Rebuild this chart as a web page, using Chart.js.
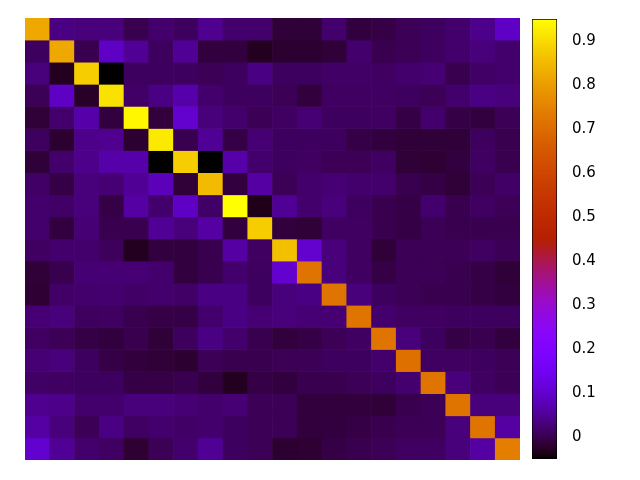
<!DOCTYPE html>
<html>
<head>
<meta charset="utf-8">
<script src="https://cdn.jsdelivr.net/npm/chart.js@4.4.1/dist/chart.umd.min.js"></script>
<style>
  html, body { margin: 0; padding: 0; background: #fff; }
  #wrap { position: relative; width: 640px; height: 480px; }
  #wrap canvas { position: absolute; left: 0; top: 0; }
</style>
</head>
<body>
<div id="wrap">
  <canvas id="heat" width="640" height="480"></canvas>
  <canvas id="cbar" width="640" height="480"></canvas>
</div>
<script>
// 20 x 20 matrix, row 0 drawn at the top
const colLabels = Array.from({ length: 20 }, (_, i) => String(i));
const cells = [
  [0.82, 0.035, 0.03, 0.03, 0.0, 0.02, 0.01, 0.045, 0.02, 0.02, -0.015, -0.015, 0.02, -0.01, -0.005, 0.005, 0.01, 0.02, 0.04, 0.09],
  [0.01, 0.82, 0.0, 0.09, 0.05, 0.01, 0.05, -0.01, -0.01, -0.03, -0.02, -0.02, -0.015, 0.02, 0.0, 0.005, 0.01, 0.02, 0.03, 0.02],
  [0.03, -0.03, 0.88, -0.06, 0.01, 0.01, 0.01, 0.005, 0.01, 0.035, 0.01, 0.01, 0.015, 0.015, 0.012, 0.02, 0.025, 0.0, 0.015, 0.02],
  [0.005, 0.09, -0.025, 0.91, 0.015, 0.035, 0.065, 0.02, 0.01, 0.01, 0.005, -0.012, 0.012, 0.012, 0.012, 0.01, 0.005, 0.02, 0.035, 0.03],
  [-0.015, 0.02, 0.065, -0.01, 0.94, -0.012, 0.1, 0.03, 0.02, 0.005, 0.012, 0.025, 0.01, 0.01, 0.012, -0.005, 0.02, -0.005, -0.01, 0.005],
  [0.01, -0.02, 0.04, 0.045, -0.02, 0.92, 0.0, 0.05, -0.005, 0.025, 0.01, 0.01, 0.01, -0.005, -0.01, -0.015, -0.015, -0.015, 0.01, 0.0],
  [-0.015, 0.02, 0.04, 0.065, 0.065, -0.05, 0.88, -0.05, 0.065, 0.02, 0.01, 0.012, 0.005, 0.005, 0.012, -0.015, -0.018, -0.01, 0.012, 0.0],
  [0.015, -0.005, 0.03, 0.025, 0.05, 0.08, -0.015, 0.85, -0.01, 0.06, 0.005, 0.02, 0.025, 0.02, 0.02, 0.0, -0.005, -0.015, 0.005, 0.015],
  [0.02, 0.015, 0.03, -0.005, 0.06, 0.02, 0.09, 0.015, 0.95, -0.035, 0.05, 0.02, 0.03, 0.01, 0.0, -0.005, 0.02, 0.0, 0.012, 0.005],
  [0.02, -0.01, 0.025, 0.0, 0.0, 0.05, 0.03, 0.06, -0.01, 0.88, -0.012, -0.015, 0.012, 0.012, 0.0, -0.005, 0.005, 0.0, 0.0, 0.0],
  [0.012, 0.02, 0.02, 0.008, -0.03, -0.01, -0.01, 0.0, 0.06, 0.012, 0.86, 0.1, 0.03, 0.012, -0.015, 0.005, 0.005, 0.005, 0.012, 0.005],
  [-0.015, 0.0, 0.025, 0.025, 0.025, 0.02, -0.01, 0.0, 0.02, 0.01, 0.1, 0.72, 0.03, 0.012, -0.005, 0.005, 0.005, 0.0, -0.005, -0.015],
  [-0.018, 0.015, 0.02, 0.022, 0.015, 0.02, 0.015, 0.035, 0.035, 0.01, 0.03, 0.035, 0.72, 0.03, 0.01, 0.005, 0.0, 0.0, -0.005, -0.01],
  [0.025, 0.03, 0.01, 0.012, 0.0, -0.005, -0.005, 0.02, 0.035, 0.025, 0.03, 0.025, 0.025, 0.72, 0.02, 0.012, 0.012, 0.01, 0.01, 0.01],
  [0.012, 0.005, -0.005, -0.01, 0.0, -0.015, 0.01, 0.035, 0.02, 0.0, -0.012, -0.005, 0.005, 0.012, 0.72, 0.03, 0.01, -0.005, 0.0, -0.01],
  [0.025, 0.03, 0.01, -0.005, -0.012, -0.015, -0.02, 0.005, 0.0, 0.0, 0.005, 0.005, 0.01, 0.01, 0.02, 0.71, 0.012, 0.012, 0.01, 0.005],
  [0.015, 0.012, 0.01, 0.01, -0.005, -0.005, 0.0, -0.01, -0.03, -0.005, -0.01, 0.0, 0.0, 0.005, 0.01, 0.022, 0.72, 0.03, 0.012, 0.005],
  [0.045, 0.04, 0.02, 0.02, 0.03, 0.03, 0.025, 0.02, 0.025, 0.005, 0.005, -0.012, -0.012, -0.012, -0.015, 0.0, 0.005, 0.72, 0.03, 0.03],
  [0.06, 0.03, 0.005, 0.035, 0.012, 0.02, 0.015, 0.02, 0.01, 0.005, 0.005, -0.012, -0.01, -0.005, 0.0, 0.005, 0.005, 0.03, 0.72, 0.06],
  [0.1, 0.05, 0.02, 0.012, -0.018, 0.005, 0.02, 0.05, 0.01, 0.005, -0.02, -0.018, -0.005, 0.0, 0.005, 0.012, 0.012, 0.03, 0.06, 0.74]
];
const cbMin = -0.05;
const cbMax = 0.95;
const cbTicks = [0, 0.1, 0.2, 0.3, 0.4, 0.5, 0.6, 0.7, 0.8, 0.9];

// gnuplot default palette (rgbformulae 7,5,15)
function palette(v) {
  let t = (v - cbMin) / (cbMax - cbMin);
  t = Math.max(0, Math.min(1, t));
  const r = Math.sqrt(t);
  const g = t * t * t;
  const b = Math.max(0, Math.sin(2 * Math.PI * t));
  return 'rgb(' + Math.round(r * 255) + ',' + Math.round(g * 255) + ',' + Math.round(b * 255) + ')';
}

const heatSets = cells.map((row, i) => ({
  label: 'row ' + i,
  data: row.map(() => [i, i + 1]),
  backgroundColor: row.map(palette),
  borderWidth: 0,
  barPercentage: 1,
  categoryPercentage: 1,
  grouped: false
}));

new Chart(document.getElementById('heat'), {
  type: 'bar',
  data: { labels: colLabels, datasets: heatSets },
  options: {
    responsive: false,
    animation: false,
    layout: { padding: { left: 25, top: 18, right: 120, bottom: 20 } },
    plugins: { legend: { display: false }, tooltip: { enabled: false } },
    scales: {
      x: { display: false },
      y: { display: false, min: 0, max: 20, reverse: true }
    }
  }
});

// colour box
function cbGradient(ctx) {
  const area = ctx.chart.chartArea;
  if (!area) return null;
  const grad = ctx.chart.ctx.createLinearGradient(0, area.bottom, 0, area.top);
  for (let k = 0; k <= 100; k++) {
    grad.addColorStop(k / 100, palette(cbMin + (cbMax - cbMin) * k / 100));
  }
  return grad;
}

new Chart(document.getElementById('cbar'), {
  type: 'bar',
  data: {
    labels: [''],
    datasets: [{
      data: [[cbMin, cbMax]],
      backgroundColor: cbGradient,
      borderColor: '#000',
      borderWidth: 1,
      borderSkipped: false,
      barPercentage: 1,
      categoryPercentage: 1
    }]
  },
  options: {
    responsive: false,
    animation: false,
    layout: { padding: { left: 532, top: 19, right: 23, bottom: 21 } },
    plugins: { legend: { display: false }, tooltip: { enabled: false } },
    scales: {
      x: { display: false },
      y: {
        position: 'right',
        min: cbMin,
        max: cbMax,
        z: 1,
        afterFit: s => { s.width = 60; },
        afterBuildTicks: s => { s.ticks = cbTicks.map(v => ({ value: v })); },
        border: { display: false, dash: [4, 17] },
        grid: { color: '#000', lineWidth: 1, drawTicks: true, tickLength: 15, tickColor: 'rgba(0,0,0,0)' },
        ticks: {
          padding: 0,
          color: '#000',
          font: { family: 'DejaVu Sans', size: 15 },
          callback: v => String(+v.toFixed(1))
        }
      }
    }
  }
});
</script>
</body>
</html>
